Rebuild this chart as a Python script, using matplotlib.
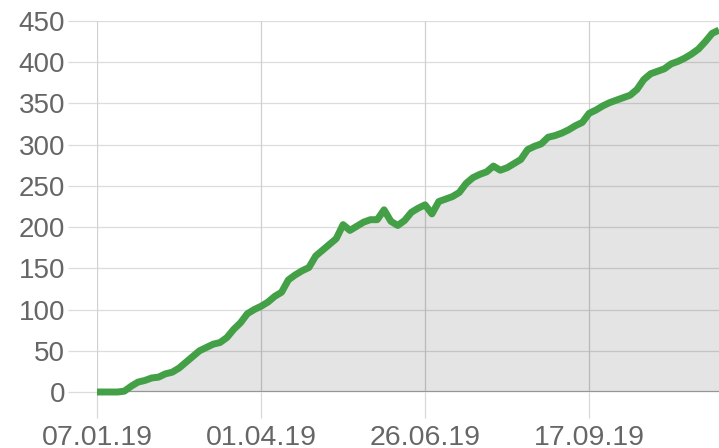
import numpy as np
import matplotlib
matplotlib.use('Agg')
import matplotlib.pyplot as plt

# значения ряда (по порядку точек)
values = [0, 0, 0, 0, 1, 7, 12, 14, 17, 18,
          22, 24, 29, 36, 43, 50, 54, 58, 60, 66,
          76, 84, 95, 100, 104, 109, 116, 121, 136, 142,
          147, 151, 165, 172, 179, 186, 203, 196, 201, 206,
          209, 209, 221, 207, 202, 208, 218, 223, 227, 216,
          231, 234, 237, 242, 253, 260, 264, 267, 274, 269,
          272, 277, 282, 294, 298, 301, 309, 311, 314, 318,
          323, 327, 338, 342, 347, 351, 354, 357, 360, 367,
          379, 386, 389, 392, 398, 401, 405, 410, 416, 425,
          435, 439]
x_labels = ['07.01.19', '01.04.19', '26.06.19', '17.09.19']
x_label_idx = [0, 24, 48, 72]
y_ticks = [0, 50, 100, 150, 200, 250, 300, 350, 400, 450]

plt.rcParams['font.family'] = ['Liberation Sans', 'DejaVu Sans']

fig = plt.figure(figsize=(7.19, 4.48), dpi=100)
ax = fig.add_axes([97 / 719, 56 / 448, 622 / 719, 371 / 448])

x = np.arange(len(values))
grid_color = '#dcdcdc'

# сетка
for yt in y_ticks[1:]:
    ax.axhline(yt, color=grid_color, lw=0.9, zorder=1)
for xi in x_label_idx:
    ax.axvline(xi, color='#d0d0d0', lw=0.9, zorder=1)
ax.axhline(0, color='#a8a8a8', lw=1.6, zorder=1)

# заливка и линия
ax.fill_between(x, 0, values, color='black', alpha=0.105, lw=0, zorder=2)
ax.plot(x, values, color='#43a047', lw=5.0, solid_joinstyle='round',
        solid_capstyle='butt', zorder=3, clip_on=False)

ax.set_xlim(0, len(values) - 1)
ax.set_ylim(0, 450)
for s in ax.spines.values():
    s.set_visible(False)

ax.set_xticks(x_label_idx)
ax.set_xticklabels(x_labels)
ax.set_yticks(y_ticks)
ax.tick_params(axis='y', length=21, width=0.9, color=grid_color, pad=2,
               labelsize=20, labelcolor='#666666')
ax.tick_params(axis='x', length=19, width=0.9, color='#d8d8d8', pad=5,
               labelsize=20.5, labelcolor='#666666')

fig.savefig('out.png', dpi=100)
plt.close()
